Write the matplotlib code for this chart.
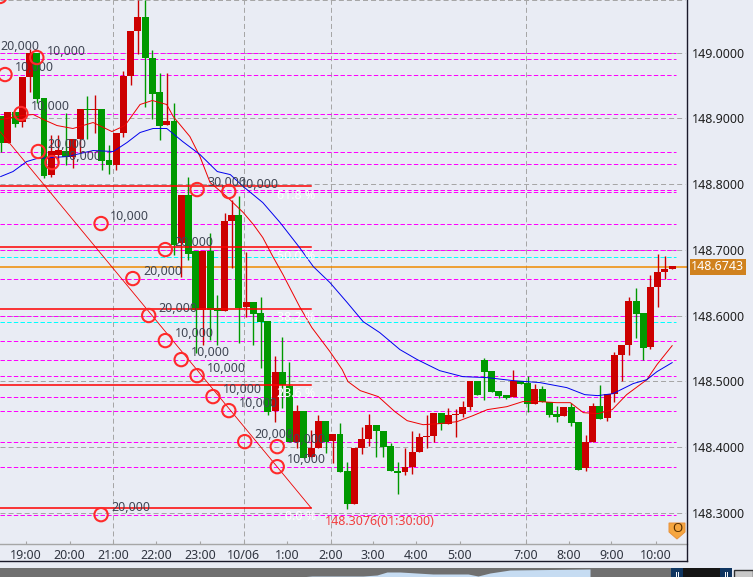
import matplotlib
matplotlib.use("Agg")
import matplotlib.pyplot as plt
from matplotlib.patches import Polygon, Rectangle

plt.rcParams['font.family'] = ['Noto Sans', 'DejaVu Sans']
plt.rcParams['lines.scale_dashes'] = False

# candles, red = up, green = down
opens = [148.9042, 148.8632, 148.9103, 148.8951, 148.9636, 149.0001, 148.9316, 148.8144, 148.8449, 148.8510,
         148.8418, 148.8692, 148.9149, 148.9119, 148.9149, 148.8373, 148.8297, 148.8784, 148.9651, 149.0321,
         149.0534, 148.9925, 148.9393, 148.8905, 148.8966, 148.7110, 148.7840, 148.6988, 148.6090, 148.6988,
         148.6120, 148.6075, 148.7444, 148.7536, 148.6135, 148.6212, 148.6044, 148.5922, 148.4553, 148.5146,
         148.4933, 148.4081, 148.4553, 148.3852, 148.3989, 148.4400, 148.4096, 148.4203, 148.3639, 148.3137,
         148.3989, 148.4126, 148.4339, 148.4248, 148.4020, 148.3639, 148.3624, 148.3700, 148.3929, 148.4157,
         148.4172, 148.4522, 148.4355, 148.4492, 148.4507, 148.4613, 148.5009, 148.5329, 148.5161, 148.4857,
         148.4796, 148.4766, 148.5009, 148.4979, 148.4659, 148.4887, 148.4690, 148.4507, 148.4476, 148.4613,
         148.4385, 148.3685, 148.4081, 148.4629, 148.4446, 148.4811, 148.5405, 148.5557, 148.6227, 148.6044,
         148.5527, 148.6440, 148.6668, 148.6714]
highs = [148.9042, 148.9103, 148.9103, 148.9636, 149.0047, 149.0001, 148.9316, 148.8753, 148.8753, 148.9088,
         148.8692, 148.9149, 148.9347, 148.9362, 148.9149, 148.8601, 148.8784, 148.9727, 149.0321, 149.0793,
         149.0793, 149.0032, 148.9697, 148.9682, 148.9240, 148.7840, 148.8114, 148.6988, 148.6988, 148.7262,
         148.6318, 148.7566, 148.7764, 148.7825, 148.6973, 148.6212, 148.6288, 148.5922, 148.5390, 148.5679,
         148.5298, 148.4644, 148.4553, 148.4263, 148.4492, 148.4400, 148.4203, 148.4370, 148.3776, 148.3989,
         148.4309, 148.4507, 148.4339, 148.4248, 148.4066, 148.3776, 148.3989, 148.4248, 148.4218, 148.4492,
         148.4522, 148.4522, 148.4598, 148.4583, 148.4705, 148.5009, 148.5009, 148.5359, 148.5161, 148.4857,
         148.4796, 148.5177, 148.5009, 148.5085, 148.4964, 148.4933, 148.4690, 148.4629, 148.4613, 148.4674,
         148.4385, 148.4187, 148.4674, 148.4948, 148.4811, 148.5451, 148.5557, 148.6288, 148.6425, 148.6044,
         148.6622, 148.6942, 148.6912, 148.6759]
lows = [148.8495, 148.8632, 148.8875, 148.8875, 148.9393, 148.9240, 148.8099, 148.8114, 148.8297, 148.8297,
        148.8251, 148.8479, 148.8692, 148.8784, 148.8221, 148.8160, 148.8221, 148.8723, 148.9514, 148.9986,
        148.9179, 148.8982, 148.8677, 148.8905, 148.6927, 148.6592, 148.6851, 148.5435, 148.5557, 148.5633,
        148.5557, 148.6075, 148.6729, 148.5588, 148.5983, 148.5557, 148.5207, 148.4492, 148.4385, 148.4598,
        148.4081, 148.3989, 148.3837, 148.3852, 148.3989, 148.3913, 148.3761, 148.3624, 148.3061, 148.3137,
        148.3898, 148.4020, 148.3852, 148.3852, 148.3639, 148.3289, 148.3578, 148.3594, 148.3929, 148.3989,
        148.4081, 148.4263, 148.4355, 148.4157, 148.4461, 148.4568, 148.4796, 148.4720, 148.4842, 148.4750,
        148.4735, 148.4766, 148.4964, 148.4537, 148.4659, 148.4690, 148.4461, 148.4385, 148.4476, 148.4324,
        148.3655, 148.3639, 148.4081, 148.4431, 148.4400, 148.4690, 148.5009, 148.5405, 148.5664, 148.5329,
        148.5496, 148.6135, 148.6562, 148.6714]
closes = [148.8632, 148.9103, 148.8921, 148.9636, 149.0001, 148.9301, 148.8129, 148.8510, 148.8525, 148.8418,
          148.8692, 148.9149, 148.9119, 148.9149, 148.8358, 148.8297, 148.8784, 148.9651, 149.0321, 149.0534,
          148.9910, 148.9377, 148.8890, 148.8966, 148.7079, 148.7840, 148.6942, 148.6090, 148.6988, 148.6090,
          148.6075, 148.7444, 148.7536, 148.6120, 148.6212, 148.6029, 148.5907, 148.4537, 148.5146, 148.4948,
          148.4081, 148.4553, 148.3837, 148.3989, 148.4400, 148.4081, 148.4203, 148.3624, 148.3137, 148.3989,
          148.4126, 148.4339, 148.4248, 148.4005, 148.3639, 148.3609, 148.3700, 148.3929, 148.4157, 148.4172,
          148.4522, 148.4355, 148.4492, 148.4507, 148.4613, 148.5009, 148.4796, 148.5146, 148.4842, 148.4781,
          148.4750, 148.5009, 148.4964, 148.4659, 148.4887, 148.4690, 148.4492, 148.4461, 148.4613, 148.4370,
          148.3655, 148.4081, 148.4629, 148.4431, 148.4811, 148.5405, 148.5557, 148.6227, 148.6029, 148.5511,
          148.6440, 148.6668, 148.6714, 148.6759]

# moving averages, read at the bar positions in *_pos
red_ma_pos = [0, 3, 4.5, 5.9, 7.8, 10, 12.8, 15.4, 17.2, 19.3, 21, 23, 23.9, 26.2, 27.6, 29, 31.3, 33.6, 35, 36.3,
              37.7, 39.1, 41.4, 43.1, 45.6, 47.3, 48.1, 49.8, 52.3, 54.6, 56.3, 58.5, 60.8, 63.2, 65.4, 67.4,
              70.1, 72.3, 74.7, 77, 78.9, 80.7, 82.7, 84.7, 86.7, 89.5, 90.9, 93]
red_ma = [148.8982, 148.9042, 148.9058, 148.8982, 148.8890, 148.8845, 148.8936, 148.8799, 148.8890, 148.9210,
          148.9271, 148.9210, 148.9027, 148.8723, 148.8418, 148.8023, 148.7810, 148.7566, 148.7384, 148.7186,
          148.6896, 148.6622, 148.6135, 148.5816, 148.5451, 148.5177, 148.4994, 148.4857, 148.4766, 148.4537,
          148.4400, 148.4339, 148.4355, 148.4385, 148.4476, 148.4568, 148.4613, 148.4690, 148.4690, 148.4674,
          148.4674, 148.4522, 148.4507, 148.4568, 148.4796, 148.5024, 148.5253, 148.5541]
blue_ma_pos = [0, 1.7, 3.6, 5, 9.2, 12.8, 15.6, 17.5, 19.3, 21.1, 23, 25.2, 27.6, 30, 31.8, 33.6, 36.3, 38.7, 41.4,
               43.3, 45.6, 48, 50.2, 52.5, 55.3, 57.7, 60.8, 64, 67.4, 71, 74.7, 78.4, 80.9, 82.7, 84.8, 87.6,
               89.5, 90.9, 93]
blue_ma = [148.8114, 148.8190, 148.8342, 148.8388, 148.8418, 148.8510, 148.8495, 148.8632, 148.8784, 148.8845,
           148.8845, 148.8647, 148.8449, 148.8190, 148.8144, 148.7962, 148.7718, 148.7414, 148.7033, 148.6744,
           148.6501, 148.6196, 148.5907, 148.5740, 148.5481, 148.5329, 148.5161, 148.5070, 148.5055, 148.5009,
           148.4979, 148.4903, 148.4796, 148.4781, 148.4811, 148.4964, 148.5024, 148.5146, 148.5283]

# horizontal levels
grid_prices = [149.08, 149.0, 148.9, 148.8, 148.7, 148.6, 148.5, 148.4, 148.3]
magenta_levels = [148.9997, 148.9905, 148.9662, 148.9068, 148.8490, 148.8307, 148.7916, 148.7886, 148.7394,
                  148.6998, 148.6557, 148.5998, 148.5614, 148.5324, 148.5081, 148.4761, 148.4548, 148.4076,
                  148.3696, 148.2965]
cyan_levels = [148.6892, 148.5903]
fib_levels = [148.7977, 148.7044, 148.6100, 148.4944, 148.3072]
fib_pos = [38.3, 38.3, 38.3, 38.3, 39.4]
fib_text_prices = [148.7825, 148.6896, 148.5968, 148.4811, 148.2939]
fib_texts = ["61.8 %", "50.0 %", "38.2 %", "23.6 %", "0.0 %"]
last_price = 148.6743
trend_pos = [-0.1, 43]
trend_prices = [148.8799, 148.3072]

# order markers
circle_pos = [-0.1, 0.6, 2.8, 5.0, 5.2, 7.1, 13.9, 18.3, 20.5, 22.8, 22.8, 25.0, 27.2, 27.2, 29.4, 31.6, 31.6, 33.8,
              38.3, 38.3, 13.9]
circle_prices = [149.0854, 148.9666, 148.9073, 148.9925, 148.8495, 148.8327, 148.7399, 148.6562, 148.6000, 148.7003,
                 148.5618, 148.5329, 148.5085, 148.7916, 148.4766, 148.7886, 148.4553, 148.4081, 148.4005, 148.3700,
                 148.2970]
label_pos = [-0.1, 6.4, 2.0, 4.2, 6.4, 8.6, 28.6, 33.1, 15.1, 24.1, 19.7, 21.8, 24.1, 26.4, 28.6, 30.8, 33.0, 35.2,
             39.7, 39.7, 15.3]
label_prices = [149.0093, 149.0017, 148.9773, 148.9179, 148.8601, 148.8418, 148.8023, 148.7992, 148.7505, 148.7110,
                148.6668, 148.6105, 148.5725, 148.5435, 148.5192, 148.4872, 148.4659, 148.4187, 148.4111, 148.3807,
                148.3076]
label_texts = ["20,000", "10,000", "10,000", "10,000", "20,000", "10,000", "30,000", "10,000", "10,000", "20,000",
               "20,000", "20,000", "10,000", "10,000", "10,000", "10,000", "10,000", "20,000", "10,000", "10,000",
               "20,000"]

# time axis
tick_pos = [3.5, 9.56, 15.55, 21.5, 27.6, 33.66, 39.65, 45.75, 51.6, 57.5, 63.6, 72.7, 78.7, 84.6, 90.7]
tick_labels = ["19:00", "20:00", "21:00", "22:00", "23:00", "10/06", "1:00", "2:00", "3:00", "4:00", "5:00",
               "7:00", "8:00", "9:00", "10:00"]
vgrid_pos = [15.55, 33.66, 45.75, 72.7]

# navigator strip at the bottom
nav_x = [300, 312, 363, 377, 387, 400, 433, 468, 478, 490, 510, 590]
nav_top = [577, 576, 576, 575, 572, 572, 574, 574, 576, 573, 570, 569]

BG = "#e9ecf4"
GRID = "#a6a6a6"
RED = "#cc0000"
GREEN = "#009900"

fig = plt.figure(figsize=(7.53, 5.77), dpi=100, facecolor=BG)
ax = fig.add_axes([0, 33 / 577, 687.3 / 753, 544 / 577], facecolor=BG)
ax.set_xlim(-0.097, 95.1)
ax.set_ylim(149.08 - 544 / 657.3, 149.08)

for p in grid_prices:
    ax.plot([-0.097, 94.8], [p, p], color=GRID, lw=0.72, ls=(0, (3.6, 2.2)), zorder=1)
for k in vgrid_pos:
    ax.axvline(k, color=GRID, lw=0.72, ls=(0, (3.6, 2.2)), zorder=1)
for p in magenta_levels:
    ax.plot([-0.097, 93.5], [p, p], color="#ff00ff", lw=0.72, ls=(0, (3.2, 1.6)), zorder=2)
for p in cyan_levels:
    ax.plot([-0.097, 93.5], [p, p], color="#00ffff", lw=0.72, ls=(0, (3.2, 1.6)), zorder=2)
ax.plot([-0.097, 95.1], [last_price, last_price], color="#f08a00", lw=1.1, zorder=2)

for i in range(len(opens)):
    up = closes[i] >= opens[i]
    c = RED if up else GREEN
    ax.vlines(i, lows[i], highs[i], color=c, lw=1.0, zorder=3)
    ax.bar(i, abs(closes[i] - opens[i]), bottom=min(opens[i], closes[i]), width=0.96, color=c, lw=0, zorder=4)

for p in fib_levels:
    ax.plot([-0.097, 43], [p, p], color="#ff0000", lw=1.1, zorder=5)
ax.plot(trend_pos, trend_prices, color="#ee0000", lw=0.6, zorder=5)
ax.plot(red_ma_pos, red_ma, color="#ee0000", lw=0.7, zorder=5)
ax.plot(blue_ma_pos, blue_ma, color="#0000ee", lw=0.7, zorder=5)

for k, p, t in zip(fib_pos, fib_text_prices, fib_texts):
    ax.text(k, p, t, color="white", fontsize=9, va="center", ha="left", zorder=6)
for k, p, t in zip(label_pos, label_prices, label_texts):
    ax.text(k, p, t, color="#404654", fontsize=9, va="center", ha="left", zorder=6)
ax.scatter(circle_pos, circle_prices, s=92, facecolors="none", edgecolors="#ff2a2a", linewidths=1.5, zorder=7)
ax.text(44.9, 148.2863, "148.3076(01:30:00)", color="#f04040", fontsize=9, va="center", ha="left", zorder=6)

ax.set_xticks(tick_pos)
ax.set_xticklabels(tick_labels)
ax.yaxis.tick_right()
ax.set_yticks(grid_prices[1:])
ax.set_yticklabels(["%.4f" % p for p in grid_prices[1:]])
ax.tick_params(axis="x", direction="in", length=2.5, width=0.8, color=GRID, labelsize=9, pad=3.5, labelcolor="#303540")
ax.tick_params(axis="y", length=0, labelsize=9, pad=3.5, labelcolor="#202020")
for s in ["top", "left"]:
    ax.spines[s].set_visible(False)
ax.spines["bottom"].set_color(GRID)
ax.spines["bottom"].set_linewidth(1.0)
ax.spines["right"].set_visible(False)

ax.text(1.0055, last_price, "%.4f" % last_price, transform=ax.get_yaxis_transform(), color="white", fontsize=9,
        va="center", ha="left", zorder=8,
        bbox=dict(boxstyle="square,pad=0.12", facecolor="#d0821e", edgecolor="none"))

# window chrome in pixel coordinates
over = fig.add_axes([0, 0, 1, 1], facecolor="none")
over.set_xlim(0, 753)
over.set_ylim(577, 0)
over.axis("off")
over.plot([687.3, 687.3], [0, 561], color="#1a1a2a", lw=1.0)
over.plot([0, 687.3], [561, 561], color="#1a1a2a", lw=1.0)
over.add_patch(Rectangle((0, 568), 671, 9, facecolor="#707070", edgecolor="none"))
over.fill_between(nav_x, nav_top, [577] * len(nav_x), color="#c6dcf2", lw=0)
over.add_patch(Rectangle((671, 568), 12, 9, facecolor="#0f3560", edgecolor="none"))
over.add_patch(Rectangle((683, 568), 37, 9, facecolor="#151515", edgecolor="none"))
over.add_patch(Rectangle((720, 568), 12, 9, facecolor="#0f3560", edgecolor="none"))
over.add_patch(Rectangle((734, 570), 19, 8, facecolor="#c8c8c8", edgecolor="#303030", lw=1))
for xp in [676, 678, 725, 727]:
    over.plot([xp, xp], [572, 577], color="white", lw=0.7)
over.add_patch(Polygon([(669, 523), (685, 523), (685, 532), (677, 539), (669, 532)], facecolor="#f5a640",
                       edgecolor="#e8913a", lw=0.7))
over.text(677, 529, "O", color="#5a3000", fontsize=9.5, fontweight="bold", ha="center", va="center")

fig.savefig("out.png", dpi=100, facecolor=BG)
